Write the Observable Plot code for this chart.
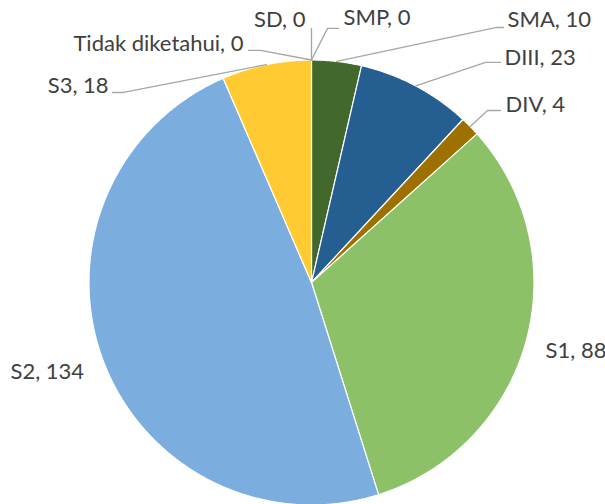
<!DOCTYPE html>
<html>
<head>
<meta charset="utf-8">
<script src="https://cdn.jsdelivr.net/npm/d3@7"></script>
<script src="https://cdn.jsdelivr.net/npm/@observablehq/plot@0.6"></script>
<style>
  html, body { margin: 0; padding: 0; background: #ffffff; }
  #chart { width: 605px; height: 504px; overflow: hidden; }
</style>
</head>
<body>
<div id="chart"></div>
<script>
// ---- data ----
const categories = ["SD", "SMP", "SMA", "DIII", "DIV", "S1", "S2", "S3", "Tidak diketahui"];
const values = [0, 0, 10, 23, 4, 88, 134, 18, 0];
const colors = ["#A5A5A5", "#ED7D31", "#43682B", "#255E91", "#9E7000", "#8CC168", "#7BAEDE", "#FFCA32", "#636363"];

// ---- label layout (unit-circle coordinates, y downwards) ----
const labelAnchor = ["end", "start", "start", "start", "start", "start", "start", "end", "end"];
const labelX = [-0.027, 0.144, 0.881, 0.867, 0.872, 1.052, -1.353, -0.912, -0.306];
const labelY = [-1.178, -1.191, -1.178, -1.011, -0.796, 0.306, 0.404, -0.885, -1.074];
// leader lines: [elbowX, elbowY, endX, endY] or null
const leaders = [
  [0, -1.142, 0, -1.142],
  [0.072, -1.142, 0.121, -1.142],
  [0.827, -1.146, 0.863, -1.146],
  [0.782, -0.989, 0.849, -0.989],
  [0.791, -0.773, 0.849, -0.773],
  null,
  null,
  [-0.845, -0.854, -0.894, -0.854],
  [-0.229, -1.043, -0.283, -1.043]
];

const rows = categories.map((name, i) => ({name, value: values[i], i}));
const arcs = d3.pie().sort(null).value(d => d.value)(rows);

// slice polygons
const slices = [];
arcs.forEach(a => {
  if (a.data.value <= 0) return;
  const n = Math.max(2, Math.ceil((a.endAngle - a.startAngle) / 0.005));
  slices.push({name: a.data.name, x: 0, y: 0});
  for (let k = 0; k <= n; k++) {
    const t = a.startAngle + (a.endAngle - a.startAngle) * k / n;
    slices.push({name: a.data.name, x: Math.sin(t), y: -Math.cos(t)});
  }
});

// leader lines
const leaderPts = [];
arcs.forEach(a => {
  const i = a.data.i;
  const L = leaders[i];
  if (!L) return;
  const m = (a.startAngle + a.endAngle) / 2;
  leaderPts.push({name: a.data.name, x: Math.sin(m), y: -Math.cos(m)});
  leaderPts.push({name: a.data.name, x: L[0], y: L[1]});
  leaderPts.push({name: a.data.name, x: L[2], y: L[3]});
});

const labels = rows.map(r => ({
  text: `${r.name}, ${r.value}`,
  x: labelX[r.i], y: labelY[r.i], anchor: labelAnchor[r.i]
}));

const textOpts = {
  x: "x", y: "y", text: "text",
  fontSize: 22, fill: "#404040", lineAnchor: "middle",
  fontFamily: "Lato, 'Open Sans', sans-serif"
};

const chart = Plot.plot({
  width: 605,
  height: 504,
  margin: 0,
  style: {background: "#ffffff", overflow: "visible"},
  x: {domain: [-1, 1], range: [88.5, 533.5], axis: null},
  y: {domain: [-1, 1], range: [59.5, 504.5], axis: null},
  color: {type: "ordinal", domain: categories, range: colors},
  marks: [
    Plot.line(slices, {x: "x", y: "y", z: "name", fill: "name", stroke: "#ffffff", strokeWidth: 1.2, curve: "linear-closed"}),
    Plot.line(leaderPts, {x: "x", y: "y", z: "name", stroke: "#A6A6A6", strokeWidth: 1.3}),
    Plot.text(labels.filter(d => d.anchor === "start"), {...textOpts, textAnchor: "start"}),
    Plot.text(labels.filter(d => d.anchor === "end"), {...textOpts, textAnchor: "end"})
  ]
});
document.getElementById("chart").appendChild(chart);
</script>
</body>
</html>
